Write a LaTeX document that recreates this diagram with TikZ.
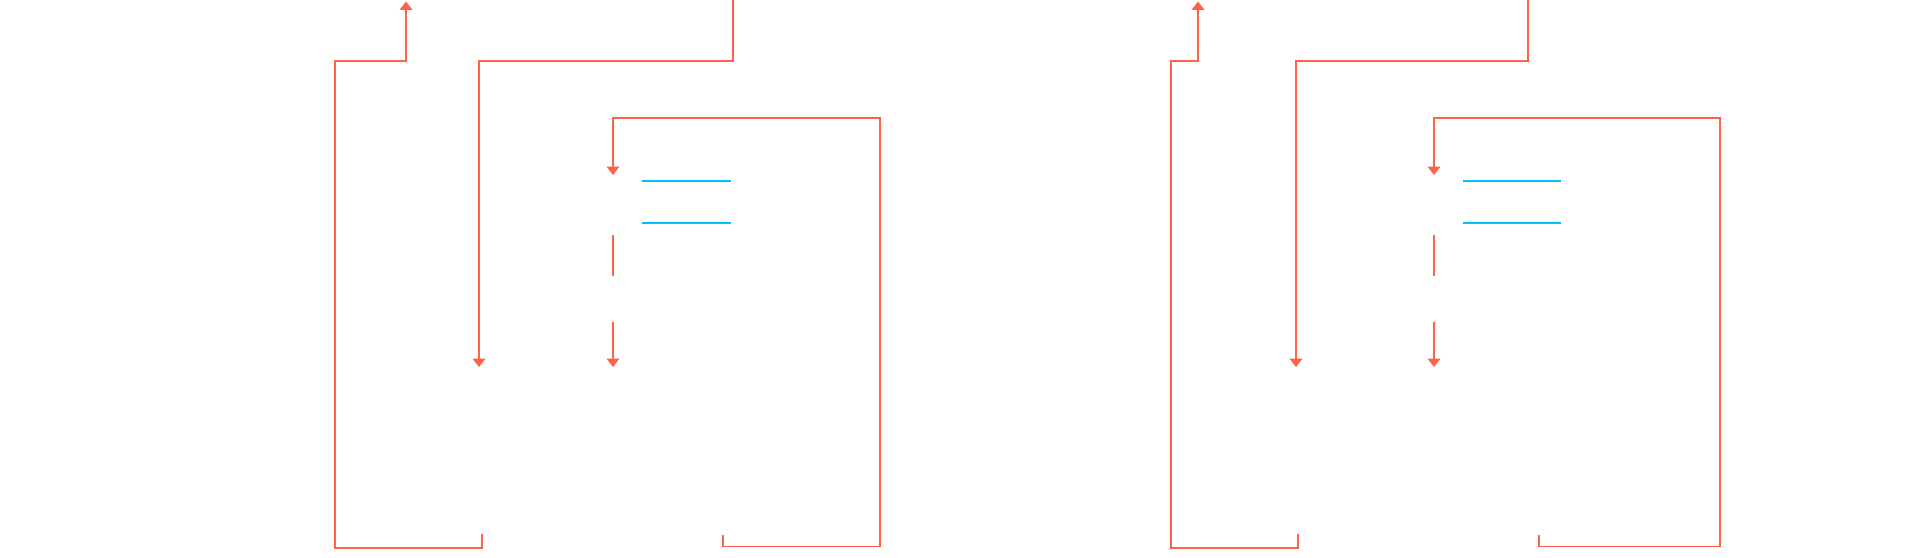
\documentclass[tikz,border=0pt]{standalone}
\usetikzlibrary{arrows.meta}
\definecolor{wirered}{RGB}{255,99,71}
\definecolor{barblue}{RGB}{0,191,255}

\begin{document}
\begin{tikzpicture}[
			x=0.01cm, y=-0.01cm,
			wire/.style={draw=wirered, line width=0.45pt},
			ar/.style={wire, -{Triangle[width=3.6pt, length=2.4pt]}},
			bar/.style={draw=barblue, line width=0.45pt}
			]
			\useasboundingbox (0,0) rectangle (1921,557);
			% two panels: left x, up arrow x, loop x, top x, inner x, right x, ticks, bar ends
			\foreach \i/\lx/\ux/\bx/\tx/\cx/\rx/\at/\ct/\be in {1/335/406/479/733/613/880/482/723/731, 2/1171/1198/1296/1528/1434/1720/1298/1539/1561} {
				\coordinate (out\i) at (\at,534);
				\coordinate (up\i) at (\ux,1.5);
				\coordinate (top\i) at (\tx,0);
				\coordinate (down\i) at (\bx,367);
				\coordinate (back\i) at (\ct,535);
				\coordinate (in\i) at (\cx,175);
				\coordinate (mida\i) at (\cx,235);
				\coordinate (midb\i) at (\cx,276);
				\coordinate (low\i) at (\cx,322);
				\coordinate (end\i) at (\cx,367);
				\draw[ar] (out\i) |- (\lx,548) |- (\ux,61) -- (up\i);
				\draw[ar] (top\i) |- (\bx,61) -- (down\i);
				\draw[ar] (back\i) |- (\rx,546.5) |- (\cx,118) -- (in\i);
				\draw[wire] (mida\i) -- (midb\i);
				\draw[ar] (low\i) -- (end\i);
				\draw[bar] ({\cx+29},181) -- (\be,181);
				\draw[bar] ({\cx+29},223) -- (\be,223);
			}
		\end{tikzpicture}
\end{document}
